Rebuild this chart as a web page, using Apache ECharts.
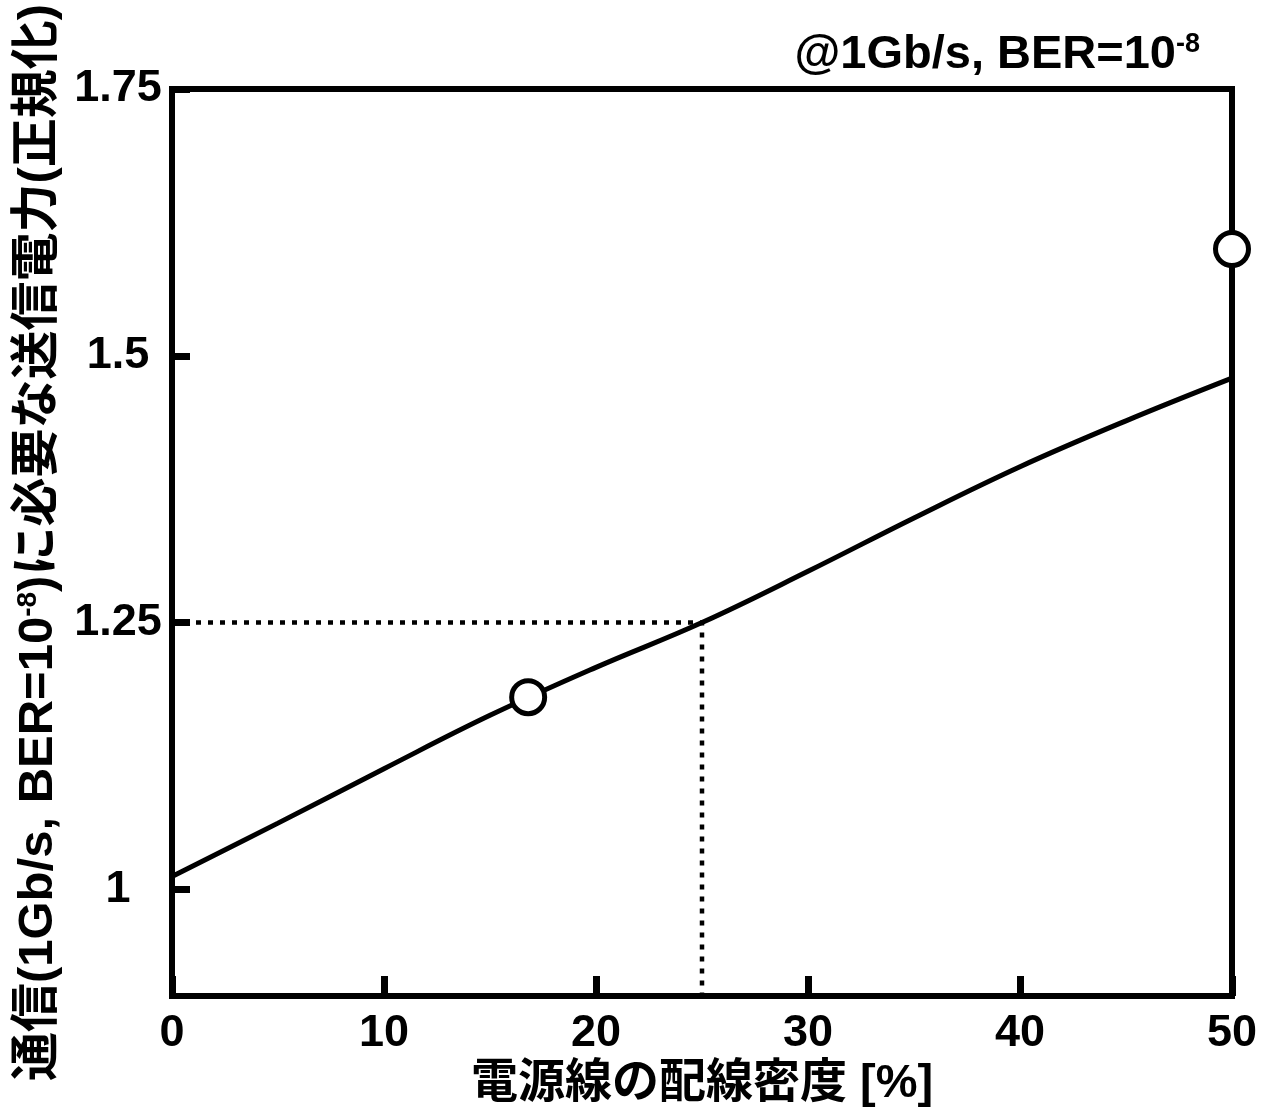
<!DOCTYPE html>
<html>
<head>
<meta charset="utf-8">
<script src="https://cdn.jsdelivr.net/npm/echarts@6/dist/echarts.min.js"></script>
<style>
  html, body { margin: 0; padding: 0; background: #fff; }
  #chart { width: 1279px; height: 1115px; }
</style>
</head>
<body>
<div id="chart"></div>
<script>
// Wiring density of power lines [%] vs. normalized transmit power
const densityPct = [0, 5, 10, 15, 20, 25, 30, 35, 40, 45, 50];
const powerNorm  = [1.012, 1.062, 1.113, 1.163, 1.208, 1.25, 1.298, 1.348, 1.396, 1.439, 1.479];

// Measured points (open circles)
const measuredPct   = [16.8, 50];
const measuredPower = [1.18, 1.6];

// Dotted guide: 25 % density -> 1.25x power
const guidePct   = [0, 25, 25];
const guidePower = [1.25, 1.25, 0.9];

const xTicks = [0, 10, 20, 30, 40, 50];
const yTicks = [1, 1.25, 1.5, 1.75];

const FONT = "'Liberation Sans', 'Noto Sans CJK JP', sans-serif";
const zip = (a, b) => a.map((v, i) => [v, b[i]]);

const chart = echarts.init(document.getElementById('chart'), null, { renderer: 'canvas' });

chart.setOption({
  backgroundColor: '#fff',
  animation: false,
  title: {
    text: '{a|@1Gb/s, BER=10}{s|-8}',
    right: 74,
    top: 26,
    textStyle: {
      rich: {
        a: { fontFamily: FONT, fontWeight: 'bold', fontSize: 47, color: '#000' },
        s: { fontFamily: FONT, fontWeight: 'bold', fontSize: 27, color: '#000', padding: [0, 0, 22, 0] }
      }
    }
  },
  grid: {
    left: 172, right: 47, top: 89, bottom: 119,
    outerBoundsMode: 'none',
    containLabel: false,
    show: true, borderColor: '#000', borderWidth: 6
  },
  xAxis: {
    type: 'value',
    min: 0, max: 50, interval: 10,
    axisLine: { show: true, onZero: false, lineStyle: { color: '#000', width: 6 } },
    axisTick: { show: true, inside: true, length: 20, lineStyle: { color: '#000', width: 7 }, customValues: xTicks },
    axisLabel: { customValues: xTicks, fontFamily: FONT, fontWeight: 'bold', fontSize: 45, color: '#000', margin: 15 },
    splitLine: { show: false },
    name: '電源線の配線密度 [%]',
    nameLocation: 'middle',
    nameGap: 62,
    nameTextStyle: { fontFamily: FONT, fontWeight: 'bold', fontSize: 47, color: '#000' }
  },
  yAxis: {
    type: 'value',
    min: 0.9, max: 1.75,
    axisLine: { show: true, onZero: false, lineStyle: { color: '#000', width: 6 } },
    axisTick: { show: true, inside: true, length: 18, lineStyle: { color: '#000', width: 7 }, customValues: yTicks },
    axisLabel: { customValues: yTicks, fontFamily: FONT, fontWeight: 'bold', fontSize: 45, color: '#000', align: 'center', margin: 54 },
    splitLine: { show: false },
    name: '{a|通信(1Gb/s, BER=10}{s|-8}{a|)に必要な送信電力(正規化)}',
    nameLocation: 'middle',
    nameRotate: 90,
    nameGap: 104,
    nameTextStyle: {
      rich: {
        a: { fontFamily: FONT, fontWeight: 'bold', fontSize: 49, color: '#000' },
        s: { fontFamily: FONT, fontWeight: 'bold', fontSize: 28, color: '#000', padding: [0, 0, 22, 0] }
      }
    }
  },
  series: [
    {
      name: 'guide',
      type: 'line',
      data: zip(guidePct, guidePower),
      symbol: 'none',
      lineStyle: { color: '#000', width: 4.5, type: [5, 7], cap: 'butt' },
      z: 2
    },
    {
      name: 'power',
      type: 'line',
      data: zip(densityPct, powerNorm),
      smooth: 0.4,
      symbol: 'none',
      lineStyle: { color: '#000', width: 5 },
      z: 3
    },
    {
      name: 'measured',
      type: 'scatter',
      data: zip(measuredPct, measuredPower),
      symbol: 'circle',
      symbolSize: 33,
      clip: false,
      itemStyle: { color: '#fff', borderColor: '#000', borderWidth: 5, opacity: 1 },
      z: 4
    }
  ]
});
</script>
</body>
</html>
